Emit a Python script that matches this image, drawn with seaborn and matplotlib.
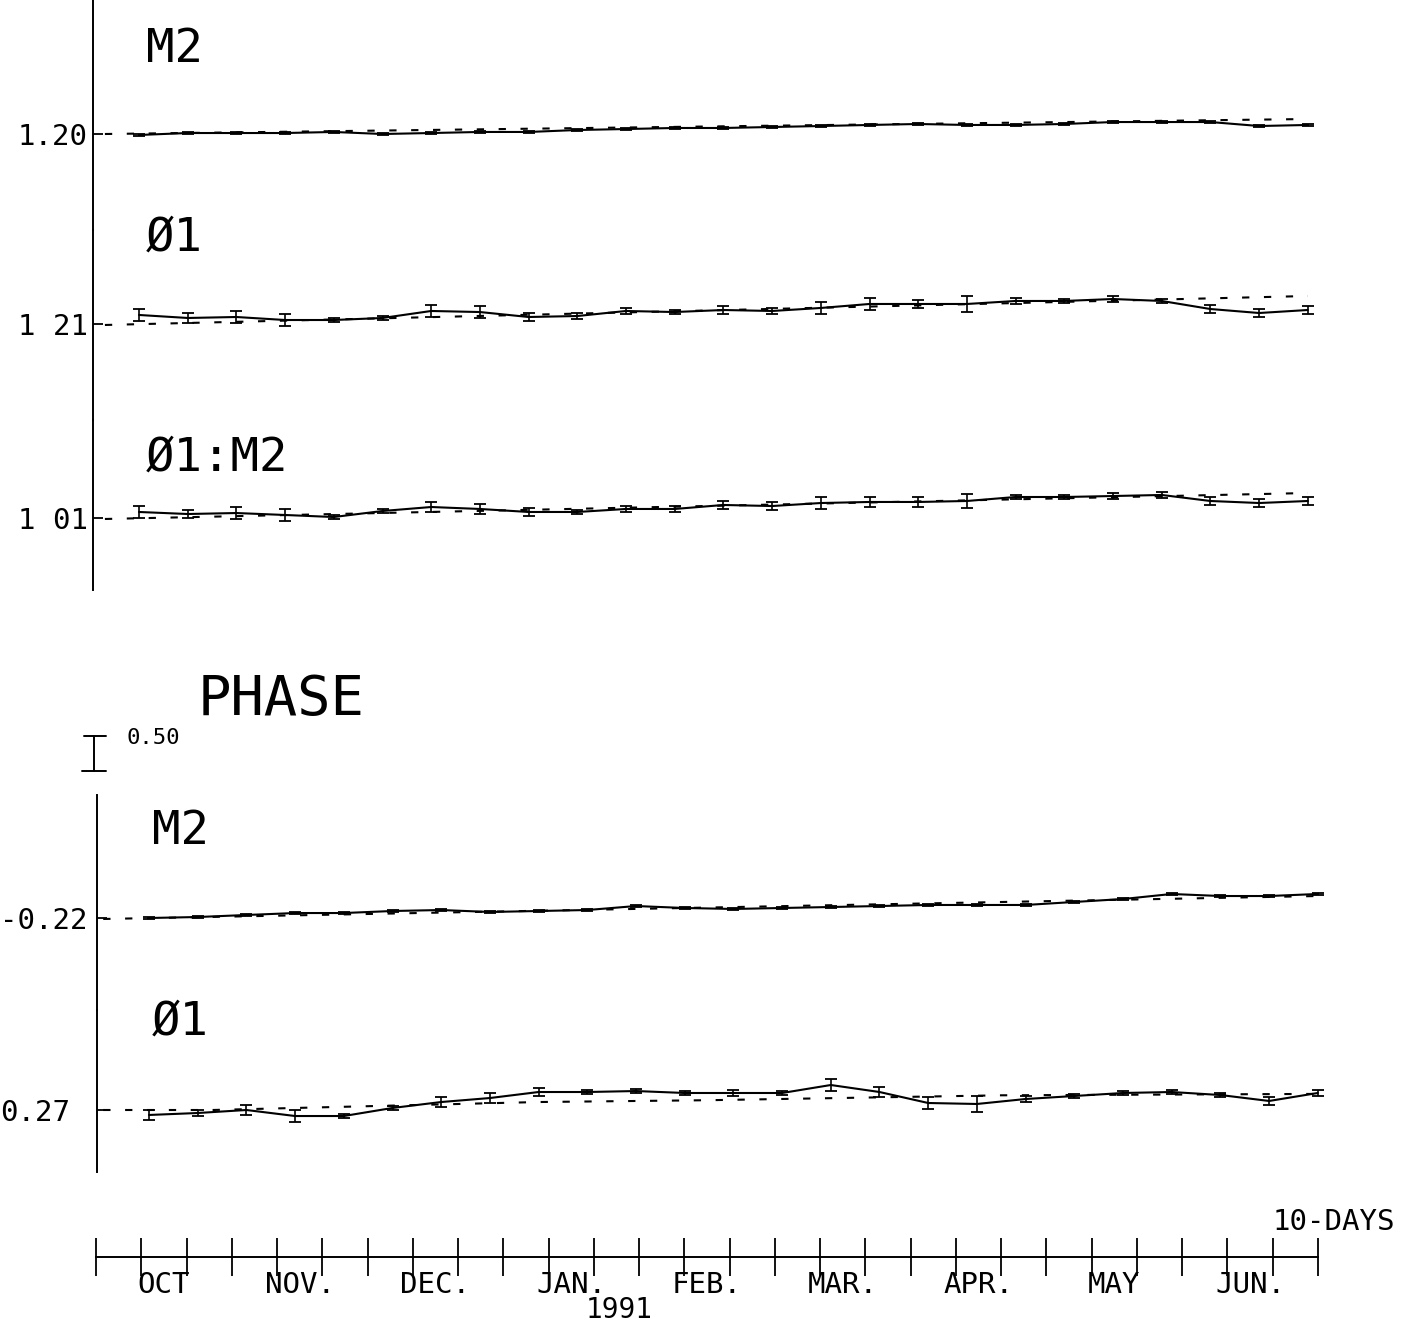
import numpy as np
import matplotlib
matplotlib.use("Agg")
import matplotlib.pyplot as plt
import seaborn as sns
from matplotlib.lines import Line2D

sns.set_style("white")
plt.rcParams['font.family'] = ['DejaVu Sans Mono', 'DejaVu Sans']
plt.rcParams['text.color'] = 'black'
plt.rcParams['xtick.color'] = 'black'
plt.rcParams['ytick.color'] = 'black'

# %% data -------------------------------------------------------------
steps = list(range(25))          # 10-day analysis windows, Oct 1990 - Jun 1991

# amplitude (observed, with error) and reference (dashed) curves
m2_amp = [1.186, 1.214, 1.214, 1.214, 1.229, 1.200, 1.214, 1.229, 1.229, 1.257,
          1.271, 1.286, 1.286, 1.300, 1.314, 1.329, 1.343, 1.329, 1.329, 1.343,
          1.371, 1.371, 1.371, 1.314, 1.329]
m2_amp_err = [0.014, 0.014, 0.014, 0.014, 0.014, 0.014, 0.014, 0.014, 0.014, 0.014,
              0.014, 0.014, 0.014, 0.014, 0.014, 0.014, 0.014, 0.014, 0.014, 0.014,
              0.014, 0.014, 0.014, 0.014, 0.014]
m2_amp_ref_x = [-0.7, 24]
m2_amp_ref = [1.200, 1.414]

o1_amp = [1.339, 1.296, 1.310, 1.267, 1.267, 1.296, 1.396, 1.381, 1.310, 1.324,
          1.396, 1.381, 1.410, 1.396, 1.439, 1.496, 1.496, 1.496, 1.539, 1.539,
          1.567, 1.539, 1.424, 1.367, 1.410]
o1_amp_err = [0.086, 0.071, 0.086, 0.086, 0.029, 0.029, 0.086, 0.086, 0.057, 0.043,
              0.043, 0.029, 0.057, 0.043, 0.086, 0.086, 0.057, 0.114, 0.043, 0.029,
              0.043, 0.029, 0.057, 0.057, 0.057]
o1_amp_ref_x = [-0.7, 24]
o1_amp_ref = [1.196, 1.610]

o1m2_amp = [1.096, 1.067, 1.081, 1.053, 1.024, 1.110, 1.167, 1.139, 1.096, 1.096,
            1.139, 1.139, 1.196, 1.181, 1.224, 1.239, 1.239, 1.253, 1.310, 1.310,
            1.324, 1.339, 1.253, 1.224, 1.253]
o1m2_amp_err = [0.086, 0.057, 0.086, 0.086, 0.029, 0.029, 0.071, 0.071, 0.057, 0.029,
                0.043, 0.043, 0.057, 0.057, 0.086, 0.071, 0.071, 0.100, 0.029, 0.029,
                0.043, 0.043, 0.057, 0.057, 0.057]
o1m2_ref_x = [-0.7, 24]
o1m2_ref = [0.996, 1.367]

# phase
m2_ph = [-0.220, -0.206, -0.177, -0.149, -0.149, -0.120, -0.106, -0.134, -0.120, -0.106,
         -0.049, -0.077, -0.091, -0.077, -0.063, -0.049, -0.034, -0.034, -0.034, 0.009,
         0.051, 0.123, 0.094, 0.094, 0.123]
m2_ph_err = [0.014, 0.014, 0.014, 0.014, 0.014, 0.014, 0.014, 0.014, 0.014, 0.014,
             0.014, 0.014, 0.014, 0.014, 0.014, 0.014, 0.014, 0.014, 0.014, 0.014,
             0.014, 0.014, 0.014, 0.014, 0.014]
m2_ph_ref_x = [-0.94, 24]
m2_ph_ref = [-0.234, 0.094]

o1_ph = [0.199, 0.227, 0.270, 0.184, 0.184, 0.299, 0.384, 0.441, 0.527, 0.527,
         0.541, 0.513, 0.513, 0.513, 0.627, 0.527, 0.370, 0.356, 0.427, 0.470,
         0.513, 0.527, 0.484, 0.399, 0.513]
o1_ph_err = [0.071, 0.043, 0.071, 0.086, 0.029, 0.029, 0.071, 0.071, 0.057, 0.029,
             0.029, 0.029, 0.043, 0.029, 0.086, 0.071, 0.086, 0.114, 0.043, 0.029,
             0.029, 0.029, 0.029, 0.057, 0.043]
o1_ph_ref_x = [-0.94, 1.3, 8, 11.5, 17.5, 24]
o1_ph_ref = [0.27, 0.27, 0.384, 0.41, 0.48, 0.50]

months = ['OCT', 'NOV.', 'DEC.', 'JAN.', 'FEB.', 'MAR.', 'APR.', 'MAY', 'JUN.']
n_tenday = 27

# %% layout -----------------------------------------------------------
W, H = 1413, 1328
PX_UNIT = 70.0     # px per unit (scale bar 0.50 = 35 px)
STEP_PX = 48.7     # px per 10-day window of the series
LW = 1.5
DASH = (0, (3.5, 7))

fig = plt.figure(figsize=(W / 100, H / 100), dpi=100)


def px_axes(left, top, right, bottom):
    return fig.add_axes([left / W, 1 - bottom / H, (right - left) / W, (bottom - top) / H])


def ftext(x, y, s, size, ha='left', va='center'):
    fig.text(x / W, 1 - y / H, s, fontsize=size, ha=ha, va=va, color='black')


def make_row(top, bottom, spine_x, x0, tick_px, level, label, label_left):
    ax = px_axes(spine_x, top, W, bottom)
    ax.patch.set_alpha(0)
    ax.set_xlim((spine_x - x0) / STEP_PX, (W - x0) / STEP_PX)
    ax.set_ylim(level - (bottom - tick_px) / PX_UNIT, level + (tick_px - top) / PX_UNIT)
    for s in ['top', 'right', 'bottom']:
        ax.spines[s].set_visible(False)
    ax.spines['left'].set_linewidth(1.4)
    ax.spines['left'].set_color('black')
    ax.set_xticks([])
    ax.set_yticks([level])
    ax.set_yticklabels([label], ha='left')
    ax.tick_params(axis='y', left=True, direction='in', length=7, width=1.3,
                   labelsize=21, pad=(spine_x - label_left) * 0.72)
    return ax


def draw_series(ax, y, err, ref_x, ref_y):
    sns.lineplot(x=ref_x, y=ref_y, ax=ax, color='black', lw=LW, linestyle=DASH)
    sns.lineplot(x=steps, y=y, ax=ax, color='black', lw=LW, estimator=None)
    ax.errorbar(steps, y, yerr=err, fmt='none', ecolor='black', elinewidth=1.2,
                capsize=4.5, capthick=1.3)
    ax.set_xlabel('')
    ax.set_ylabel('')


# amplitude block
ax1 = make_row(0, 230, 93, 139, 134, 1.20, '1.20', 18)
draw_series(ax1, m2_amp, m2_amp_err, m2_amp_ref_x, m2_amp_ref)
ax2 = make_row(230, 420, 93, 139, 324, 1.21, '1 21', 18)
draw_series(ax2, o1_amp, o1_amp_err, o1_amp_ref_x, o1_amp_ref)
ax3 = make_row(420, 590, 93, 139, 518, 1.01, '1 01', 18)
draw_series(ax3, o1m2_amp, o1m2_amp_err, o1m2_ref_x, o1m2_ref)

# phase block
ax4 = make_row(795, 1010, 97, 149, 918, -0.22, '-0.22', 0)
draw_series(ax4, m2_ph, m2_ph_err, m2_ph_ref_x, m2_ph_ref)
ax5 = make_row(1010, 1172, 97, 149, 1110, 0.27, '0.27', 0)
draw_series(ax5, o1_ph, o1_ph_err, o1_ph_ref_x, o1_ph_ref)

# series names
ftext(146, 50, 'M2', 34)
ftext(146, 238, 'Ø1', 34)
ftext(146, 458, 'Ø1:M2', 34)
ftext(152, 832, 'M2', 34)
ftext(152, 1022, 'Ø1', 34)
ftext(198, 700, 'PHASE', 40)

# 0.50 scale bar
for xs, ys in [([94, 94], [736, 771]), ([84, 106], [736, 736]), ([82, 106], [771, 771])]:
    fig.add_artist(Line2D([x / W for x in xs], [1 - y / H for y in ys],
                          color='black', lw=1.4))
ftext(127, 738, '0.50', 16)

# time axis (10-day ticks, months)
T0, T1 = 96, 1318
tstep = (T1 - T0) / n_tenday
axt = px_axes(60, 1200, 1380, 1257)
axt.patch.set_alpha(0)
axt.set_xlim((60 - T0) / tstep, (1380 - T0) / tstep)
axt.set_ylim(0, 1)
for s in ['top', 'right', 'left']:
    axt.spines[s].set_visible(False)
axt.spines['bottom'].set_bounds(0, n_tenday)
axt.spines['bottom'].set_linewidth(1.4)
axt.spines['bottom'].set_color('black')
axt.set_yticks([])
axt.set_xticks(range(n_tenday + 1))
axt.set_xticklabels([])
axt.set_xticks([1.5 + 3 * m for m in range(len(months))], minor=True)
axt.set_xticklabels(months, minor=True)
axt.tick_params(axis='x', which='major', bottom=True, direction='inout', length=28,
                width=1.3, color='black')
axt.tick_params(axis='x', which='minor', bottom=True, length=0, labelsize=21, pad=10)
ftext(1395, 1222, '10-DAYS', 21, ha='right')
ftext(619, 1310, '1991', 20, ha='center')

fig.savefig('out.png', dpi=100)
